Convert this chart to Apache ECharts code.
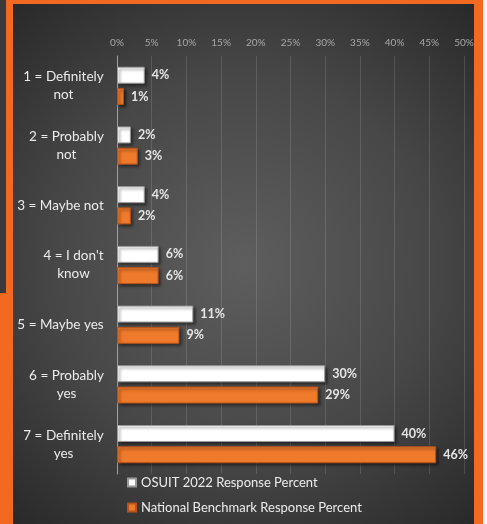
<!DOCTYPE html>
<html>
<head>
<meta charset="utf-8">
<script src="https://cdn.jsdelivr.net/npm/echarts@6/dist/echarts.min.js"></script>
<style>
  html, body { margin: 0; padding: 0; background: #3a3a3a; }
  #chart { width: 487px; height: 524px; }
</style>
</head>
<body>
<div id="chart"></div>
<script>
// Survey answers, top to bottom
const categories = [
  '1 = Definitely\nnot',
  '2 = Probably\nnot',
  '3 = Maybe not',
  '4 = I don\'t\nknow',
  '5 = Maybe yes',
  '6 = Probably\nyes',
  '7 = Definitely\nyes'
];
const osuitValues = [4, 2, 4, 6, 11, 30, 40];
const nationalValues = [1, 3, 2, 6, 9, 29, 46];
const seriesNames = ['OSUIT 2022 Response Percent', 'National Benchmark Response Percent'];
const xTicks = { min: 0, max: 50, step: 5 };

const FONT = 'Lato, "Open Sans", sans-serif';
const CAT_FONT_SIZE = 13.5;

// Category labels: the block is right-aligned against the axis, lines centred inside it
const ctx = document.createElement('canvas').getContext('2d');
ctx.font = CAT_FONT_SIZE + 'px ' + FONT;
const rich = {};
categories.forEach((c, i) => {
  const w = Math.max(...c.split('\n').map(s => ctx.measureText(s).width));
  rich['c' + i] = { width: Math.ceil(w), align: 'center', fontSize: CAT_FONT_SIZE,
    fontFamily: FONT, color: '#ececec', lineHeight: 18 };
});

const valueLabel = {
  show: true, position: 'right', distance: 7, formatter: '{c}%',
  color: '#e6e6e6', fontSize: 12.5, fontWeight: 'bold', fontFamily: FONT
};

const chart = echarts.init(document.getElementById('chart'));
chart.setOption({
  backgroundColor: 'transparent',
  animation: false,
  graphic: [
    // orange frame and panel
    { type: 'rect', shape: { x: 0, y: 293, width: 14, height: 231 }, style: { fill: '#f26a21' }, silent: true, z: -10 },
    { type: 'rect', shape: { x: 483, y: 0, width: 4, height: 524 }, style: { fill: '#f4f4f4' }, silent: true, z: -10 },
    { type: 'rect', shape: { x: 6, y: 0, width: 477, height: 524 }, style: { fill: '#f26a21' }, silent: true, z: -10 },
    {
      type: 'rect', shape: { x: 13, y: 4, width: 461, height: 520 }, silent: true, z: -9,
      style: {
        fill: new echarts.graphic.RadialGradient(0.5, 0.5, 0.75, [
          { offset: 0, color: '#5e5e5e' },
          { offset: 0.55, color: '#474747' },
          { offset: 1, color: '#292929' }
        ])
      }
    }
  ],
  grid: { left: 117, right: 23, top: 56, bottom: 50, containLabel: false },
  legend: {
    orient: 'vertical',
    left: 122,
    top: 471,
    itemWidth: 8,
    itemHeight: 8,
    itemGap: 12,
    icon: 'rect',
    textStyle: { color: '#ececec', fontSize: 13, fontFamily: FONT },
    data: seriesNames
  },
  xAxis: {
    type: 'value',
    position: 'top',
    min: xTicks.min,
    max: xTicks.max,
    interval: xTicks.step,
    axisLine: { show: false },
    axisTick: { show: false },
    axisLabel: { color: '#a8a8a8', fontSize: 10, fontFamily: FONT, margin: 8, formatter: '{value}%' },
    splitLine: { show: true, lineStyle: { color: 'rgba(255,255,255,0.13)', width: 1 } }
  },
  yAxis: {
    type: 'category',
    inverse: true,
    data: categories,
    axisLine: { show: true, lineStyle: { color: '#a0a0a0', width: 1 } },
    axisTick: { show: false },
    axisLabel: {
      margin: 13,
      formatter: (v, i) => '{c' + i + '|' + v + '}',
      rich: rich
    }
  },
  series: [
    {
      name: seriesNames[0],
      type: 'bar',
      data: osuitValues,
      barWidth: 17,
      barGap: '25%',
      itemStyle: {
        color: '#ffffff', borderColor: '#9a9a9a', borderWidth: 1,
        shadowColor: 'rgba(0,0,0,0.55)', shadowBlur: 3, shadowOffsetX: 2, shadowOffsetY: 2
      },
      label: valueLabel
    },
    {
      name: seriesNames[1],
      type: 'bar',
      data: nationalValues,
      barWidth: 17,
      itemStyle: {
        color: '#f07a2b', borderColor: '#b5531a', borderWidth: 1,
        shadowColor: 'rgba(0,0,0,0.55)', shadowBlur: 3, shadowOffsetX: 2, shadowOffsetY: 2
      },
      label: valueLabel
    }
  ]
});
</script>
</body>
</html>
